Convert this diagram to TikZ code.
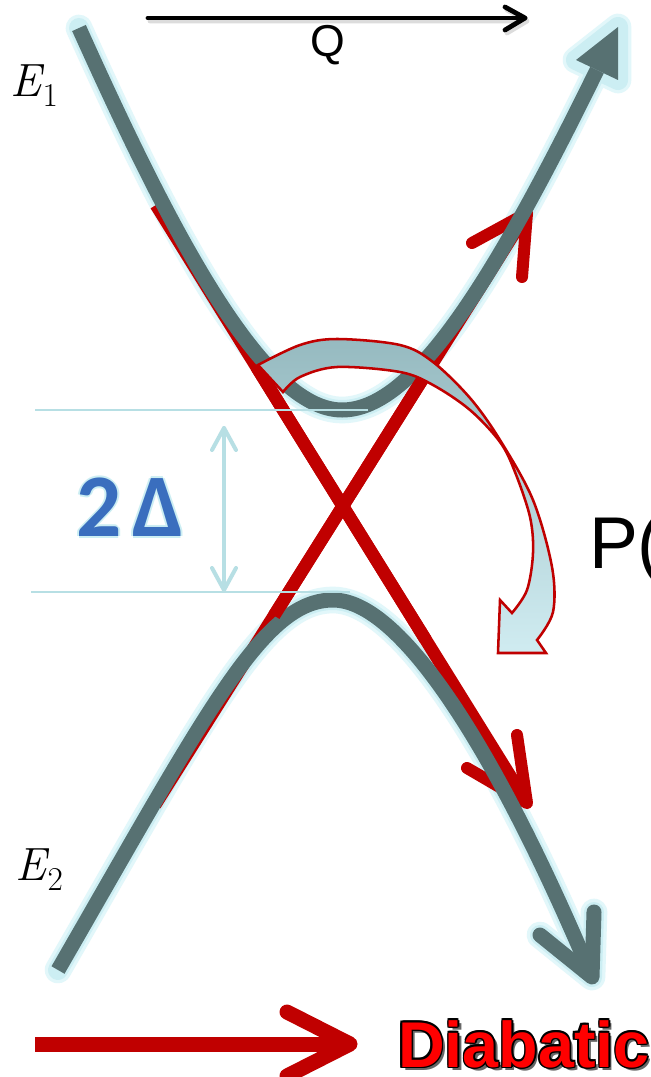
\documentclass[tikz,border=0pt]{standalone}
\usepackage{fontspec}
\newfontfamily\arialfont{Liberation Sans}
\newfontfamily\calibrifont{Carlito}
\definecolor{curvegray}{RGB}{87,113,114}
\definecolor{glowA}{RGB}{226,247,250}
\definecolor{glowB}{RGB}{204,238,243}
\definecolor{dred}{RGB}{192,0,0}
\definecolor{gapline}{RGB}{183,223,228}
\definecolor{deltablue}{RGB}{58,110,190}
\definecolor{bandtop}{RGB}{150,186,192}
\definecolor{bandbot}{RGB}{208,236,241}
\definecolor{diabred}{RGB}{255,0,0}
\begin{document}
\begin{tikzpicture}[x=0.75pt,y=-0.75pt]
\tikzset{
  glowout/.style={draw=glowA, line width=20pt, line cap=round, line join=round},
  glowin/.style={draw=glowB, line width=15pt, line cap=round, line join=round},
  curve/.style={draw=curvegray, line width=11.25pt, line cap=butt, line join=round},
  redline/.style={draw=dred, line width=9.5pt, line cap=butt},
  redhead/.style={draw=dred, line width=9pt, line cap=round, line join=round},
  gap/.style={draw=gapline, line width=1.5pt},
  gaparrow/.style={draw=gapline, line width=3pt, line cap=round, line join=round},
  txt/.style={inner sep=0pt, outer sep=0pt},
  dtext/.style={txt, anchor=base west, font=\arialfont\bfseries\fontsize{48.5}{48.5}\selectfont},
}
\useasboundingbox (0,0) rectangle (650,1077);
\fill[white] (0,0) rectangle (650,1077);

% ---- coordinates ----
\coordinate (e1s) at (79,28);
\coordinate (e1m) at (342,410);
\coordinate (e1e) at (597,70);
\coordinate (e1tip) at (618,27);
\coordinate (e1wl) at (576,60);
\coordinate (e1wr) at (618,80);
\coordinate (e2s) at (58,970);
\coordinate (e2m) at (333,600);
\coordinate (e2e) at (589,970);
\coordinate (e2tip) at (592,977);
\coordinate (e2wl) at (540,935);
\coordinate (e2wr) at (594,912);
\coordinate (rAs) at (156,205);
\coordinate (rAe) at (527,803);
\coordinate (rBs) at (155,805);
\coordinate (rBe) at (527,213);
\path (rAs) -- (rAe) coordinate[pos=0.27] (rAa) coordinate[pos=0.727] (rAb);
\path (rBs) -- (rBe) coordinate[pos=0.32] (rBa) coordinate[pos=0.725] (rBb);

% ---- glow ----
\foreach \st in {glowout,glowin}{
  \draw[\st] (e1s) .. controls (169,228) and (262,410) .. (e1m) .. controls (410,410) and (487,295) .. (e1e);
  \draw[\st] (e1tip) -- (e1wl) -- (e1wr) -- cycle;
  \draw[\st] (e2s) .. controls (208,710) and (263,600) .. (e2m) .. controls (400,600) and (493.5,745) .. (e2e);
  \draw[\st] (e2wl) -- (e2tip) -- (e2wr);
}

% ---- red diabatic lines (under) ----
\draw[redline] (rAs) -- (rAe);
\draw[redline] (rBs) -- (rBe);
\draw[redhead] (517,735) -- (rAe) -- (467,768);
\draw[redhead] (522,277) -- (rBe) -- (472,243);

% ---- gray adiabatic curves ----
\draw[curve] (e1s) .. controls (169,228) and (262,410) .. (e1m) .. controls (410,410) and (487,295) .. (e1e);
\fill[curvegray] (e1tip) -- (e1wl) -- (e1wr) -- cycle;
\draw[curve] (e2s) .. controls (208,710) and (263,600) .. (e2m) .. controls (400,600) and (493.5,745) .. (e2e);
\draw[curve, line cap=round] (e2wl) -- (e2tip) -- (e2wr);

% ---- red lines over the crossing ----
\draw[redline] (rAa) -- (rAb);
\draw[redline] (rBa) -- (rBb);

% ---- curved transition arrow ----
\draw[draw=dred, line width=1.9pt, line join=miter, top color=bandtop, bottom color=bandbot]
  plot[smooth, tension=0.55] coordinates {(258,365) (300,345) (337,339) (400,345) (433,362) (470,398) (500,440) (533,500) (552,567) (553,612) (537,640)}
  -- (546,653) -- (498,653) -- (500,600) --
  plot[smooth, tension=0.55] coordinates {(512,613) (527,590) (533,553) (530,517) (515,472) (500,442) (470,410) (433,385) (400,372) (337,367) (300,377) (283,392)}
  -- cycle;

% ---- gap markers ----
\coordinate (g1a) at (35,410); \coordinate (g1b) at (368,410);
\coordinate (g2a) at (31,592); \coordinate (g2b) at (350,592);
\draw[gap] (g1a) -- (g1b);
\draw[gap] (g2a) -- (g2b);
\coordinate (gt) at (224,428); \coordinate (gb) at (224,590);
\draw[gaparrow] (gt) -- (gb);
\draw[gaparrow] (212,450) -- (gt) -- (236,450);
\draw[gaparrow] (212,568) -- (gb) -- (236,568);

% ---- Q axis arrow ----
\coordinate (qs) at (148,18); \coordinate (qe) at (525,18);
\draw[gray!45, line width=3.6pt, opacity=0.6, line cap=round, line join=round] (150,21) -- (527,21) (507,10) -- (527,21) -- (507,33);
\draw[black, line width=3.6pt, line cap=round, line join=round] (qs) -- (qe);
\draw[black, line width=3.6pt, line cap=round, line join=round] (505,7) -- (qe) -- (505,30);
\node[txt, anchor=base, font=\arialfont\fontsize{33.5}{33.5}\selectfont] (qlabel) at (328,57) {Q};

% ---- energy labels ----
\node[txt, anchor=base west] (e1label) at (11,97) {\fontsize{35}{35}\selectfont\itshape E\kern0.5pt\raisebox{-7.5pt}{\upshape\fontsize{25}{25}\selectfont 1}};
\node[txt, anchor=base west] (e2label) at (16,880) {\fontsize{35}{35}\selectfont\itshape E\kern0.5pt\raisebox{-7.5pt}{\upshape\fontsize{25}{25}\selectfont 2}};

% ---- 2 Delta ----
\foreach \dx/\dy in {-1.5/0,1.5/0,0/-1.5,0/1.5}{
  \node[txt, text=glowB, font=\calibrifont\bfseries\fontsize{67}{67}\selectfont, xshift=\dx pt, yshift=\dy pt] at (130,507) {2\kern8pt Δ};
}
\node[txt, text=deltablue, font=\calibrifont\bfseries\fontsize{67}{67}\selectfont] (gaplabel) at (130,507) {2\kern8pt Δ};

% ---- P( ----
\node[txt, anchor=base west, font=\arialfont\fontsize{55}{55}\selectfont] (plabel) at (589,568) {P(};

% ---- Diabatic arrow and label ----
\coordinate (ds) at (35,1044); \coordinate (de) at (348,1044); \coordinate (dtip) at (350,1044);
\draw[dred, line width=11.25pt, line cap=butt] (ds) -- (de);
\draw[dred, line width=11.25pt, line cap=round, line join=round] (287,1012) -- (dtip) -- (287,1076);
\coordinate (dpos) at (398,1067);
\node[dtext, text=black!60, xshift=2.5pt, yshift=-2.5pt] at (dpos) {Diabatic};
\foreach \dx/\dy in {-1.2/0,1.2/0,0/-1.2,0/1.2,-0.85/-0.85,0.85/0.85,-0.85/0.85,0.85/-0.85}{
  \node[dtext, text=black, xshift=\dx pt, yshift=\dy pt] at (dpos) {Diabatic};
}
\node[dtext, text=diabred] (dlabel) at (dpos) {Diabatic};
\end{tikzpicture}
\end{document}
